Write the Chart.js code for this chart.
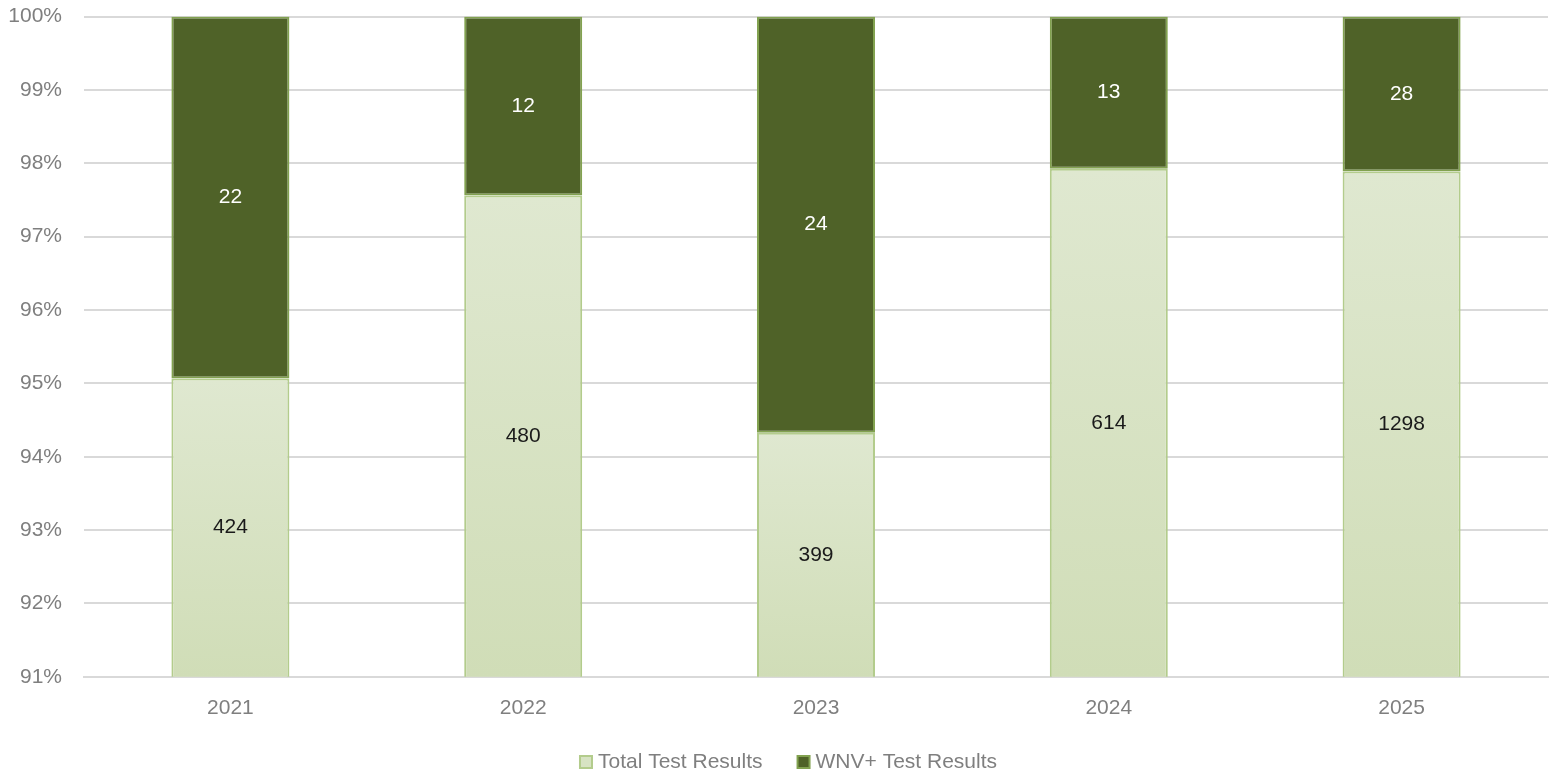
<!DOCTYPE html>
<html>
<head>
<meta charset="utf-8">
<script src="https://cdn.jsdelivr.net/npm/chart.js@4/dist/chart.umd.min.js"></script>
<style>
  html, body { margin: 0; padding: 0; background: #fff; overflow: hidden; }
  #wrap { width: 1554px; height: 792px; position: absolute; left: 0; top: -18px; }
</style>
</head>
<body>
<div id="wrap"><canvas id="wnvChart"></canvas></div>
<script>
'use strict';

var years = ['2021', '2022', '2023', '2024', '2025'];
var totalResults = [424, 480, 399, 614, 1298];
var positiveResults = [22, 12, 24, 13, 28];
var yTicks = [91, 92, 93, 94, 95, 96, 97, 98, 99, 100];
var seriesNames = ['Total Test Results', 'WNV+ Test Results'];

// share of each year's results, in percent
var totalPct = totalResults.map(function(v, i) { return v / (v + positiveResults[i]) * 100; });
var positivePct = positiveResults.map(function(v, i) { return v / (totalResults[i] + v) * 100; });
var counts = [totalResults, positiveResults];

var FONT = "'Liberation Sans', Arial, sans-serif";
var LIGHT = '#d7e3c3', LIGHT_EDGE = '#b3cc8c';
var DARK = '#4f6228', DARK_EDGE = '#82a250';

function lightFill(context) {
  var chart = context.chart;
  var area = chart.chartArea;
  if (!area) return LIGHT;
  var y = chart.scales.y;
  var top = y.getPixelForValue(totalPct[context.dataIndex] || 100);
  if (!isFinite(top)) top = area.top;
  var g = chart.ctx.createLinearGradient(0, top, 0, area.bottom);
  g.addColorStop(0, '#dfe8d0');
  g.addColorStop(1, '#d0ddb7');
  return g;
}

// writes the raw counts in the middle of each segment
var segmentLabels = {
  id: 'segmentLabels',
  afterDatasetsDraw: function(chart) {
    var ctx = chart.ctx;
    ctx.save();
    ctx.font = '21px ' + FONT;
    ctx.textAlign = 'center';
    ctx.textBaseline = 'middle';
    chart.data.datasets.forEach(function(ds, di) {
      var meta = chart.getDatasetMeta(di);
      ctx.fillStyle = di === 0 ? '#1a1a1a' : '#ffffff';
      meta.data.forEach(function(bar, i) {
        var top = Math.max(bar.y, chart.chartArea.top);
        var bottom = Math.min(bar.base, chart.chartArea.bottom);
        ctx.fillText(String(counts[di][i]), bar.x, (top + bottom) / 2);
      });
    });
    ctx.restore();
  }
};

// legend row under the axis
var bottomLegend = {
  id: 'bottomLegend',
  afterDraw: function(chart) {
    var ctx = chart.ctx;
    var fills = [LIGHT, DARK], edges = [LIGHT_EDGE, DARK_EDGE];
    var box = 14, gap = 5, spacing = 34;
    ctx.save();
    ctx.font = '21px ' + FONT;
    ctx.textBaseline = 'middle';
    var widths = seriesNames.map(function(n) { return ctx.measureText(n).width; });
    var total = widths.reduce(function(a, w) { return a + box + gap + w; }, 0) + spacing;
    var x = 788 - total / 2;
    var y = chart.height - 12;
    seriesNames.forEach(function(name, i) {
      ctx.fillStyle = fills[i];
      ctx.strokeStyle = edges[i];
      ctx.lineWidth = 2;
      ctx.fillRect(x + 1, y - box / 2 + 1, box - 2, box - 2);
      ctx.strokeRect(x + 1, y - box / 2 + 1, box - 2, box - 2);
      ctx.fillStyle = '#7f7f7f';
      ctx.fillText(name, x + box + gap, y);
      x += box + gap + widths[i] + spacing;
    });
    ctx.restore();
  }
};

var ctx = document.getElementById('wnvChart').getContext('2d');
new Chart(ctx, {
  type: 'bar',
  data: {
    labels: years,
    datasets: [{
      label: seriesNames[0],
      data: totalPct,
      backgroundColor: lightFill,
      borderColor: LIGHT_EDGE,
      borderWidth: 2,
      borderSkipped: false
    }, {
      label: seriesNames[1],
      data: totalPct.map(function(v, i) { return [v, v + positivePct[i]]; }),
      backgroundColor: DARK,
      borderColor: DARK_EDGE,
      borderWidth: 2,
      borderSkipped: false
    }]
  },
  options: {
    responsive: true,
    maintainAspectRatio: false,
    animation: false,
    layout: { padding: { top: 0, right: 6, bottom: 34, left: 0 } },
    datasets: {
      bar: { categoryPercentage: 1, barPercentage: 0.403, grouped: false }
    },
    scales: {
      x: {
        grid: { display: false, drawTicks: false },
        border: { display: true, color: '#d9d9d9', width: 2 },
        ticks: { color: '#7f7f7f', font: { family: FONT, size: 21 }, padding: 19 }
      },
      y: {
        min: 91,
        max: 100,
        afterBuildTicks: function(scale) {
          scale.ticks = yTicks.map(function(v) { return { value: v }; });
        },
        afterFit: function(scale) { scale.width = 84; },
        grid: { color: '#d9d9d9', lineWidth: 2, drawTicks: false },
        border: { display: false },
        ticks: {
          color: '#7f7f7f',
          font: { family: FONT, size: 21 },
          padding: 22,
          callback: function(v) { return v + '%'; }
        }
      }
    },
    plugins: {
      legend: { display: false },
      tooltip: { enabled: false }
    }
  },
  plugins: [segmentLabels, bottomLegend]
});
</script>
</body>
</html>
